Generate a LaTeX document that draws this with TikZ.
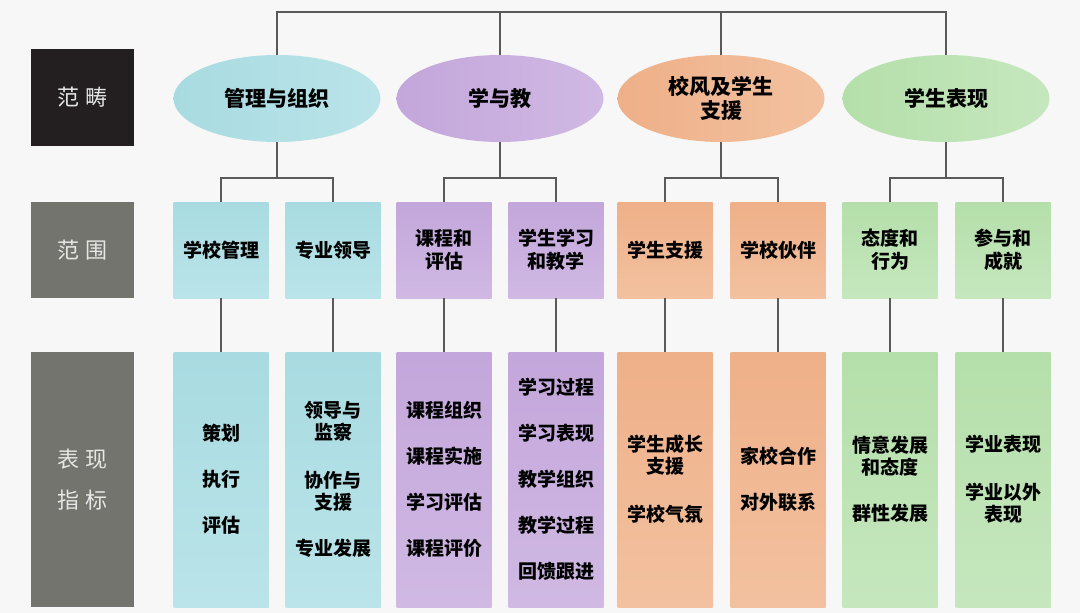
\documentclass[tikz,border=0pt]{standalone}
\usepackage{fontspec}
\setmainfont{Noto Sans CJK SC}
\usetikzlibrary{shapes.geometric}
\definecolor{bgcol}{HTML}{F7F7F7}
\definecolor{linegray}{HTML}{5A5A5A}
\definecolor{sidedark}{HTML}{231F20}
\definecolor{sidegray}{HTML}{74746E}
\definecolor{sidetext}{HTML}{E6E6E6}
\definecolor{tealA}{HTML}{A8DBE1}
\definecolor{tealB}{HTML}{BAE4E9}
\definecolor{purpA}{HTML}{C3A6DB}
\definecolor{purpB}{HTML}{D0B9E3}
\definecolor{orngA}{HTML}{EEB088}
\definecolor{orngB}{HTML}{F3C1A0}
\definecolor{grnA}{HTML}{B4DFAA}
\definecolor{grnB}{HTML}{C6E7BE}
\begin{document}
\begin{tikzpicture}[x=1pt,y=-1pt,
  line/.style={draw=linegray,line width=1.8pt},
  cat/.style={ellipse,minimum width=207pt,minimum height=87pt,inner sep=0pt,align=center,
    font=\fontsize{21}{24}\selectfont\bfseries},
  area/.style={minimum width=95pt,minimum height=96pt,inner sep=0pt,align=center,
    font=\fontsize{19}{23}\selectfont\bfseries},
  indic/.style={minimum width=95pt,minimum height=255pt,inner sep=0pt,align=center,
    font=\fontsize{19}{22}\selectfont\bfseries},
  side/.style={minimum width=103pt,inner sep=0pt,align=center,text=sidetext,
    font=\fontsize{22}{24}\selectfont},
  teal/.style={top color=tealA,bottom color=tealB},
  purp/.style={top color=purpA,bottom color=purpB},
  orng/.style={top color=orngA,bottom color=orngB},
  grn/.style={top color=grnA,bottom color=grnB}]
% background
\fill[bgcol] (0,0) rectangle (1080,613);

% row labels
\node[side,fill=sidedark,minimum height=97pt] (rowA) at (82.5,97.5) {范\hspace{7pt}畴};
\node[side,fill=sidegray,minimum height=96pt] (rowB) at (82.5,250) {范\hspace{7pt}围};
\node[side,fill=sidegray,minimum height=255pt] (rowC) at (82.5,479.5) {\raisebox{-7pt}{表\hspace{7pt}现}\\[17pt]\raisebox{-7pt}{指\hspace{7pt}标}};

% domains
\node[cat,left color=tealA,right color=tealB] (mgmt) at (277,98.5) {管理与组织};
\node[cat,left color=purpA,right color=purpB] (teach) at (500,98.5) {学与教};
\node[cat,left color=orngA,right color=orngB] (ethos) at (721,98.5) {校风及学生\\支援};
\node[cat,left color=grnA,right color=grnB] (perf) at (946,98.5) {学生表现};

% areas
\node[area,teal] (schmgmt) at (221,250) {学校管理};
\node[area,teal] (proflead) at (333,250) {专业领导};
\node[area,purp] (curr) at (444,250) {课程和\\评估};
\node[area,purp] (learn) at (556,250) {学生学习\\和教学};
\node[area,orng] (stusup) at (665,250) {学生支援};
\node[area,orng] (partner) at (778,250) {学校伙伴};
\node[area,grn] (attit) at (890,250) {态度和\\行为};
\node[area,grn] (achiev) at (1003,250) {参与和\\成就};

% indicators
\node[indic,teal] (indA) at (221,479.5) {策划\\[24pt]执行\\[24pt]评估};
\node[indic,teal] (indB) at (333,479.5) {领导与\\监察\\[26pt]协作与\\支援\\[24pt]专业发展};
\node[indic,purp] (indC) at (444,479.5) {课程组织\\[24pt]课程实施\\[24pt]学习评估\\[24pt]课程评价};
\node[indic,purp] (indD) at (556,479.5) {学习过程\\[24pt]学习表现\\[24pt]教学组织\\[24pt]教学过程\\[24pt]回馈跟进};
\node[indic,orng] (indE) at (665,479.5) {学生成长\\支援\\[26pt]学校气氛};
\node[indic,orng] (indF) at (778,479.5) {家校合作\\[24pt]对外联系};
\node[indic,grn] (indG) at (890,479.5) {情意发展\\和态度\\[24pt]群性发展};
\node[indic,grn] (indH) at (1003,479.5) {学业表现\\[26pt]学业以外\\表现};

% top bar
\coordinate (topbar) at (0,12);
\draw[line] (mgmt.north) -- (mgmt.north |- topbar) -- (perf.north |- topbar) -- (perf.north);
\draw[line] (teach.north) -- (teach.north |- topbar);
\draw[line] (ethos.north) -- (ethos.north |- topbar);

% domain to areas
\draw[line] (mgmt.south) -- ++(0,36);
\draw[line] (schmgmt.north) -- ++(0,-24) -| (proflead.north);
\draw[line] (teach.south) -- ++(0,36);
\draw[line] (curr.north) -- ++(0,-24) -| (learn.north);
\draw[line] (ethos.south) -- ++(0,36);
\draw[line] (stusup.north) -- ++(0,-24) -| (partner.north);
\draw[line] (perf.south) -- ++(0,36);
\draw[line] (attit.north) -- ++(0,-24) -| (achiev.north);

% areas to indicators
\draw[line] (schmgmt) -- (indA);
\draw[line] (proflead) -- (indB);
\draw[line] (curr) -- (indC);
\draw[line] (learn) -- (indD);
\draw[line] (stusup) -- (indE);
\draw[line] (partner) -- (indF);
\draw[line] (attit) -- (indG);
\draw[line] (achiev) -- (indH);
\end{tikzpicture}
\end{document}
